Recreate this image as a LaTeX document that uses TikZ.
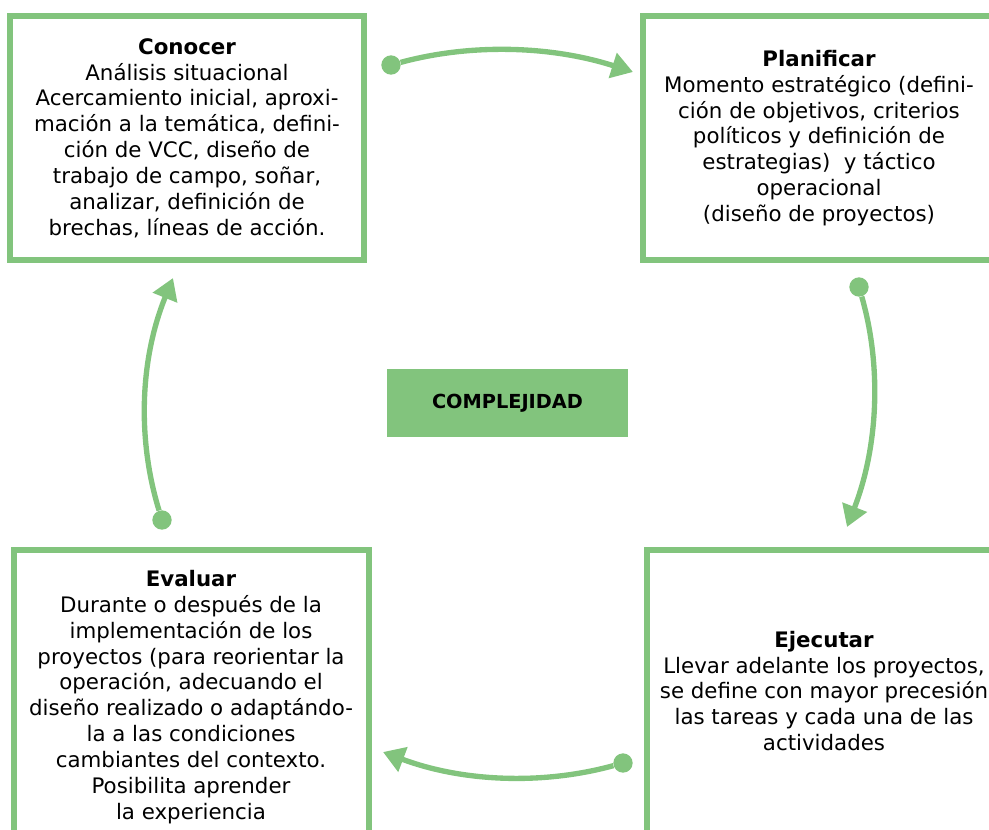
\documentclass[tikz,border=0pt]{standalone}
\usepackage{fontspec}
\setmainfont{DejaVu Sans}
\usetikzlibrary{arrows.meta}
\definecolor{CycleClr}{rgb}{0.51,0.77,0.49}

\begin{document}
\begin{tikzpicture}[x=.75pt,y=-.75pt,
  stagetext/.style={align=center,inner sep=0pt,font=\fontsize{16}{19.4}\selectfont},
  stageframe/.style={draw=CycleClr,line width=4pt},
  knob/.style={circle,fill=CycleClr,inner sep=0pt,minimum size=14.5pt},
  cyclearrow/.style={draw=CycleClr,line width=4pt,
    -{Triangle[length=16pt,width=19pt]}}]
\path[use as bounding box,clip] (0,0) rectangle (989,829);

\node[stagetext] (conocer) at (187,138)
  {\textbf{Conocer}\\ Análisis situacional\\ Acercamiento inicial, aproxi-\\
   mación a la temática, defini-\\ ción de VCC, diseño de\\
   trabajo de campo, soñar,\\ analizar, definición de\\ brechas, líneas de acción.};
\node[stagetext] (planificar) at (819,138)
  {\textbf{Planificar}\\ Momento estratégico (defini-\\ ción de objetivos, criterios\\
   políticos y definición de\\ estrategias)\ \ y táctico\\ operacional\\
   (diseño de proyectos)};
\node[stagetext] (ejecutar) at (824,691)
  {\textbf{Ejecutar}\\ Llevar adelante los proyectos,\\ se define con mayor precesión\\
   las tareas y cada una de las\\ actividades};
\node[stagetext] (evaluar) at (191,697)
  {\textbf{Evaluar}\\ Durante o después de la\\ implementación de los\\
   proyectos (para reorientar la\\ operación, adecuando el\\
   diseño realizado o adaptándo-\\ la a las condiciones\\
   cambiantes del contexto.\\ Posibilita aprender\\ la experiencia};

% frames round the four stages
\draw[stageframe] (conocer) ++(-177,-122) rectangle ++(354,244);
\draw[stageframe] (planificar) ++(-176,-122) rectangle ++(352,244);
\draw[stageframe] (ejecutar) ++(-177,-141) rectangle ++(354,300);
\draw[stageframe] (evaluar) ++(-177,-147) rectangle ++(355,294);

\node[fill=CycleClr,minimum width=180.75pt,minimum height=51pt,
  font=\fontsize{14.5}{17}\selectfont\bfseries] (complejidad) at (507.5,403) {COMPLEJIDAD};

\node[knob] (dotA) at (391,65) {};
\node[knob] (dotB) at (859,287) {};
\node[knob] (dotC) at (623,763) {};
\node[knob] (dotD) at (162,520) {};
\coordinate (tipA) at (633,72);
\coordinate (tipB) at (847,527);
\coordinate (tipC) at (383,752);
\coordinate (tipD) at (173,278);

\draw[cyclearrow] (dotA) .. controls (472,43) and (552,46) .. (tipA);
\draw[cyclearrow] (dotB) .. controls (882,367) and (878,447) .. (tipB);
\draw[cyclearrow] (dotC) .. controls (543,785) and (463,782) .. (tipC);
\draw[cyclearrow] (dotD) .. controls (137,439) and (140,359) .. (tipD);

\end{tikzpicture}
\end{document}
